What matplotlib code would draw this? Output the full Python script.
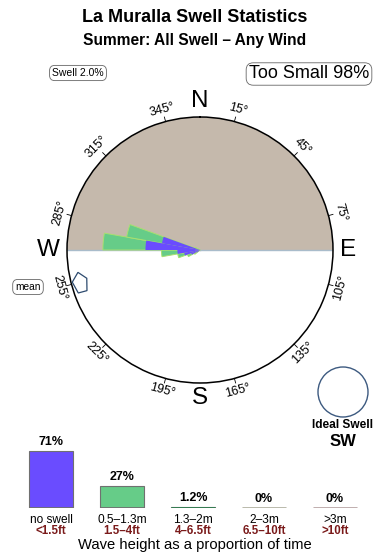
import numpy as np
import matplotlib.pyplot as plt
from matplotlib.patches import Circle, Polygon

plt.rcParams['font.family'] = ['Liberation Sans', 'DejaVu Sans']

# swell rose: direction bin centres (deg) and share of the plot radius
rose_dirs = [235, 245, 255, 265, 275, 285, 295]
rose_all = [0.05, 0.10, 0.17, 0.29, 0.73, 0.56, 0.04]    # all swell (green)
rose_small = [0.03, 0.07, 0.12, 0.17, 0.41, 0.29, 0.0]   # small swell (blue)
mean_dir = 255
ideal_dir = 'SW'
swell_pct = '2.0%'
too_small_pct = '98%'

# wave height distribution
height_m = ['no swell', '0.5\u20131.3m', '1.3\u20132m', '2\u20133m', '>3m']
height_ft = ['<1.5ft', '1.5\u20134ft', '4\u20136.5ft', '6.5\u201310ft', '>10ft']
height_pct = [71, 27, 1.2, 0, 0]
height_lbl = ['71%', '27%', '1.2%', '0%', '0%']

tan = '#c5b9ac'
blue = '#6a4cff'
green = '#66cc88'

fig = plt.figure(figsize=(3.9, 5.6), dpi=100)
W, H = 390.0, 560.0

fig.text(0.5, 1 - 18 / H, 'La Muralla Swell Statistics', ha='center', va='center',
         fontsize=13, weight='bold')
fig.text(0.5, 1 - 41 / H, 'Summer: All Swell \u2013 Any Wind', ha='center', va='center',
         fontsize=11.2, weight='bold')
fig.text(78 / W, 1 - 73 / H, 'Swell ' + swell_pct, ha='center', va='center', fontsize=7.5,
         bbox=dict(boxstyle='round,pad=0.25,rounding_size=0.5', fc='white', ec='#666666', lw=0.6))
fig.text(309 / W, 1 - 74 / H, 'Too Small ' + too_small_pct, ha='center', va='center', fontsize=13,
         bbox=dict(boxstyle='round,pad=0.15,rounding_size=0.4', fc='white', ec='#666666', lw=0.6))

# ---- rose ----
cx, cy, R = 200, 250, 133
ax = fig.add_axes([(cx - R) / W, (H - cy - R) / H, 2 * R / W, 2 * R / H], projection='polar')
ax.set_theta_zero_location('N')
ax.set_theta_direction(-1)
ax.set_ylim(0, 1)
ax.grid(False)
ax.set_xticks([])
ax.set_yticks([])
ax.spines['polar'].set_linewidth(1.1)
ax.spines['polar'].set_zorder(5)

ax.bar(0, 1, width=np.pi, color=tan, lw=0, zorder=0)
ax.plot([np.pi / 2, np.pi / 2], [0, 1], color='#a9bccb', lw=1, zorder=1)
ax.plot([3 * np.pi / 2, 3 * np.pi / 2], [0, 1], color='#a9bccb', lw=1, zorder=1)

th = np.radians(rose_dirs)
ax.bar(th, rose_all, width=np.radians(10), color=green, edgecolor='#a8e070', lw=0.7, zorder=2)
ax.bar(th, rose_small, width=np.radians(10), color=blue, lw=0, zorder=3)

for a in range(15, 360, 30):
    t = np.radians(a)
    ax.plot([t, t], [1.0, 1.035], color='black', lw=0.6, clip_on=False, zorder=5)
    rot = -a if (a < 90 or a > 270) else 180 - a
    ax.text(t, 1.095, f'{a}\u00b0', rotation=rot, ha='center', va='center',
            fontsize=9, clip_on=False)

for lab, a, rr in [('N', 0, 1.12), ('E', 90, 1.11), ('S', 180, 1.11), ('W', 270, 1.14)]:
    ax.text(np.radians(a), rr, lab, ha='center', va='center', fontsize=17.5, clip_on=False)

# mean direction arrow, drawn along the rim
m = np.radians(mean_dir)
base = 0.93 * np.array([np.sin(m), np.cos(m)])   # x right, y up
n = np.array([np.sin(m), np.cos(m)])
u = np.array([np.cos(m), -np.sin(m)])
shape = np.array([[10, 0], [2, 8], [-10, 5], [-10, -4], [2, -7]]) / R
pts = []
for s, q in shape:
    p = base + s * u + q * n
    pts.append([np.arctan2(p[0], p[1]), np.hypot(p[0], p[1])])
ax.add_patch(Polygon(pts, closed=True, fc='white', ec='#2c4a6e', lw=0.9, zorder=6, clip_on=False))

fig.text(28 / W, 1 - 287 / H, 'mean', ha='center', va='center', fontsize=7.3,
         bbox=dict(boxstyle='round,pad=0.25,rounding_size=0.5', fc='white', ec='#666666', lw=0.6))

# ideal swell marker
axc = fig.add_axes([318 / W, (H - 417) / H, 50 / W, 50 / H])
axc.set_xlim(0, 1)
axc.set_ylim(0, 1)
axc.set_aspect('equal')
axc.axis('off')
axc.add_patch(Circle((0.5, 0.5), 0.5, fc='white', ec='#3d5a80', lw=1, clip_on=False))
fig.text(343 / W, 1 - 425 / H, 'Ideal Swell', ha='center', va='center', fontsize=8.6, weight='bold')
fig.text(343 / W, 1 - 441 / H, ideal_dir, ha='center', va='center', fontsize=12, weight='bold')

# ---- wave height bars ----
ax2 = fig.add_axes([15.5 / W, (H - 508) / H, 355 / W, 80.3 / H])
ax2.set_xlim(-0.5, 4.5)
ax2.set_ylim(0, 100)
ax2.axis('off')
x = np.arange(len(height_pct))
bw = 0.63
ax2.bar(x, height_pct, width=bw, color=[blue, green, '#2e7d4f', '#b4b4a4', '#bba8a8'],
        edgecolor='#707070', lw=0.8)
ax2.hlines(np.zeros(len(x)), x - bw / 2, x + bw / 2,
           colors=['#707070', '#707070', '#2e7d4f', '#b4b4a4', '#bba8a8'], lw=2)
for i, v in enumerate(height_pct):
    ax2.annotate(height_lbl[i], (i, v), xytext=(0, 6.5), textcoords='offset points',
                 ha='center', va='center', fontsize=9, weight='bold', annotation_clip=False)
    ax2.annotate(height_m[i], (i, 0), xytext=(0, -8.3), textcoords='offset points',
                 ha='center', va='center', fontsize=8.6, annotation_clip=False)
    ax2.annotate(height_ft[i], (i, 0), xytext=(0, -16.2), textcoords='offset points',
                 ha='center', va='center', fontsize=8.3, weight='bold', color='#7a1a1a',
                 annotation_clip=False)

fig.text(195 / W, 1 - 545 / H, 'Wave height as a proportion of time', ha='center', va='center',
         fontsize=10.6)

fig.savefig('out.png', dpi=100)
